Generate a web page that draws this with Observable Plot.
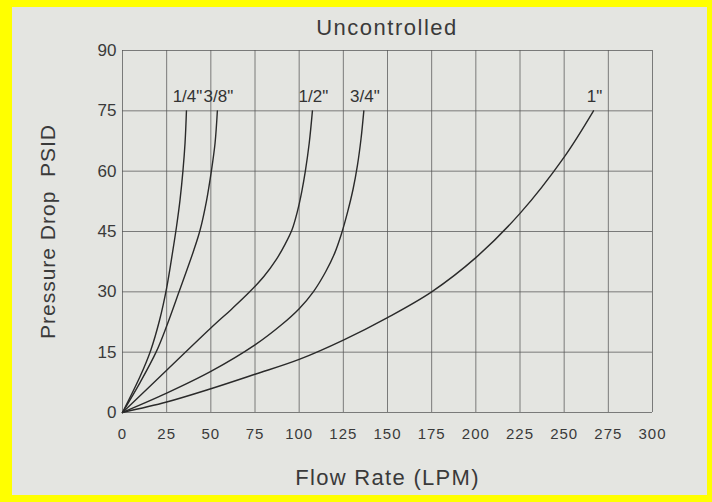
<!DOCTYPE html>
<html>
<head>
<meta charset="utf-8">
<script src="https://cdn.jsdelivr.net/npm/d3@7"></script>
<script src="https://cdn.jsdelivr.net/npm/@observablehq/plot@0.6"></script>
<style>
  html, body { margin: 0; padding: 0; }
  body { width: 712px; height: 502px; background: #ffff00; position: relative; overflow: hidden;
         font-family: "Liberation Sans", Arial, sans-serif; }
  #panel { position: absolute; left: 12px; top: 7px; width: 695px; height: 488px; background: #e4e5e1; }
  #title { height: 26px; line-height: 42px; font-size: 22px; letter-spacing: 1.5px; color: #3a3a3a;
           text-align: center; padding-left: 110px; padding-right: 55px; box-sizing: border-box; overflow: visible; }
  svg g[aria-label="x-axis label"] text { font-size: 22px; letter-spacing: 1.3px; }
  svg g[aria-label="y-axis label"] text { font-size: 21px; letter-spacing: 1px; }
  svg g[aria-label="x-axis tick label"] text { letter-spacing: 1px; }
</style>
</head>
<body>
<div id="panel">
  <div id="title">Uncontrolled</div>
  <div id="chart"></div>
</div>
<script>
// Curve sizes
const sizes = ['1/4"', '3/8"', '1/2"', '3/4"', '1"'];

// Flow rate (LPM) and pressure drop (PSID) for each curve
const flow14 = [0, 10, 16, 21, 25, 28.4, 30.5, 32.6, 34.2, 35.4, 36.2];
const psid14 = [0, 9, 15.5, 23, 31, 40, 46, 53, 60, 67, 75];

const flow38 = [0, 10, 19, 25, 32, 40.4, 44, 47.5, 50.3, 52.4, 53.7];
const psid38 = [0, 7.5, 15, 21.5, 30, 40.4, 45.5, 52.5, 60, 67, 75];

const flow12 = [0, 25, 50, 62, 72, 80, 87, 92, 96, 99, 101.5, 103.5, 105.7, 107.5];
const psid12 = [0, 10.5, 21, 25.8, 30, 33.8, 38, 41.8, 45.5, 50, 55, 60, 67, 75];

const flow34 = [0, 25, 50, 75, 90, 100, 108, 115, 120, 124, 127.5, 130.5, 133, 135, 136.6];
const psid34 = [0, 4.8, 10.2, 16.8, 21.8, 25.8, 30, 35, 39.5, 44.5, 50, 55.5, 61.5, 68, 75];

const flow1 = [0, 25, 50, 75, 100, 125, 150, 175, 200, 225, 250, 266.6];
const psid1 = [0, 2.6, 5.9, 9.5, 13.2, 18, 23.6, 30, 38.5, 49.5, 63.5, 75];

// Axis ticks
const xTicks = [0, 25, 50, 75, 100, 125, 150, 175, 200, 225, 250, 275, 300];
const yTicks = [0, 15, 30, 45, 60, 75, 90];

const series = [
  [sizes[0], flow14, psid14],
  [sizes[1], flow38, psid38],
  [sizes[2], flow12, psid12],
  [sizes[3], flow34, psid34],
  [sizes[4], flow1, psid1]
];
const rows = series.flatMap(([size, fl, ps]) => fl.map((f, i) => ({size, flow: f, psid: ps[i]})));

const chart = Plot.plot({
  width: 695,
  height: 462,
  marginLeft: 110,
  marginRight: 55,
  marginTop: 17,
  marginBottom: 83,
  style: {background: "transparent", color: "#3a3a3a", fontFamily: "'Liberation Sans', Arial, sans-serif"},
  x: {domain: [0, 300]},
  y: {domain: [0, 90]},
  marks: [
    Plot.gridX(xTicks, {stroke: "#555", strokeOpacity: 0.75, strokeWidth: 1}),
    Plot.gridY(yTicks, {stroke: "#555", strokeOpacity: 0.75, strokeWidth: 1}),
    Plot.axisX(xTicks, {tickSize: 0, tickPadding: 16, fontSize: 15, label: "Flow Rate (LPM)", labelArrow: "none", labelAnchor: "center", labelOffset: 72}),
    Plot.axisY(yTicks, {tickSize: 0, tickPadding: 6, fontSize: 17, label: "Pressure Drop  PSID", labelArrow: "none", labelAnchor: "center", labelOffset: 82}),
    Plot.line(rows, {x: "flow", y: "psid", z: "size", curve: "catmull-rom", stroke: "#2a2a2a", strokeWidth: 1.4}),
    Plot.text(rows, Plot.selectLast({x: "flow", y: "psid", z: "size", text: "size", dy: -14, dx: 1, fontSize: 17, fill: "#333", style: "letter-spacing:1px"}))
  ]
});
// strip any label arrows
chart.querySelectorAll('g[aria-label$="axis label"] text').forEach(t => {
  t.textContent = t.textContent.replace(/\s*[←↑→↓]\s*/g, "").trim();
});
document.getElementById("chart").appendChild(chart);
</script>
</body>
</html>
